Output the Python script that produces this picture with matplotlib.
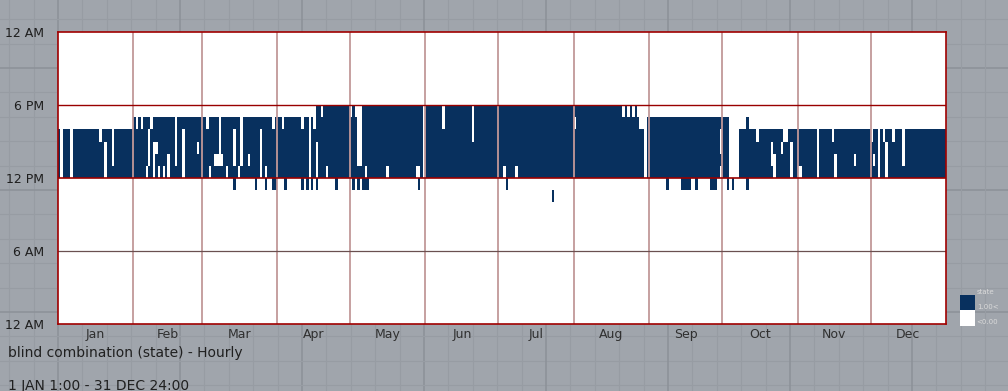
import numpy as np
import matplotlib
matplotlib.use("Agg")
import matplotlib.pyplot as plt
from matplotlib.colors import ListedColormap
from matplotlib.patches import Rectangle

# month layout
months = ['Jan', 'Feb', 'Mar', 'Apr', 'May', 'Jun', 'Jul', 'Aug', 'Sep', 'Oct', 'Nov', 'Dec']
month_days = [31, 28, 31, 30, 31, 30, 31, 31, 30, 31, 30, 31]

hour_ticks = [0, 6, 12, 18, 24]
hour_labels = ['12 AM', '6 AM', '12 PM', '6 PM', '12 AM']

# blind closed from 12 PM up to seg_top (day ranges)
seg_start = [0, 31, 105, 238, 280]
seg_end = [31, 105, 238, 280, 365]
seg_top = [16, 17, 18, 17, 16]

# open (white) gaps: day, first hour, end hour
gap_day = [1, 5, 17, 19, 22,
           32, 34, 36, 37, 38, 39, 40, 41, 43, 45, 48, 51,
           57, 61, 62, 64, 65, 66, 67, 69, 72, 74, 75, 78, 83, 85, 88,
           92, 100, 103, 105, 106, 108, 110,
           120, 122, 123, 124, 126, 135, 147, 148, 150,
           158, 170,
           183, 188,
           212, 232, 234, 236, 239, 240, 241,
           272, 272, 276, 277, 278, 279, 287, 293, 294, 297, 298, 299, 301,
           304, 305, 312, 318, 319, 327,
           334, 335, 337, 339, 340, 343, 347]
gap_lo = [12, 12, 15, 12, 13,
          16, 16, 12, 13, 16, 12, 14, 12, 12, 12, 13, 12,
          14, 16, 12, 13, 13, 13, 13, 12, 13, 12, 13, 13, 12, 12, 16,
          16, 16, 12, 16, 12, 17, 12,
          17, 17, 13, 13, 12, 12, 12, 12, 12,
          16, 15,
          12, 12,
          16, 17, 17, 17, 16, 16, 12,
          14, 12, 12, 12, 12, 12, 15, 13, 12, 14, 15, 15, 12,
          12, 12, 12, 15, 12, 13,
          15, 13, 12, 15, 12, 15, 13]
gap_hi = [16, 16, 16, 15, 16,
          17, 17, 13, 16, 17, 15, 15, 13, 13, 14, 17, 16,
          15, 17, 13, 14, 14, 17, 14, 13, 16, 13, 17, 14, 16, 13, 17,
          17, 17, 17, 18, 15, 18, 13,
          18, 18, 18, 18, 13, 13, 13, 13, 18,
          18, 18,
          13, 13,
          17, 18, 18, 18, 17, 17, 17,
          16, 13, 17, 17, 17, 17, 16, 15, 14, 15, 16, 16, 15,
          13, 13, 16, 16, 14, 14,
          16, 14, 16, 16, 15, 16, 16]

# extra closed hours outside the main block
fill_day = [72, 81, 85, 88, 89, 93, 100, 102, 104, 106, 114, 121, 123, 125, 126, 127,
            148, 184, 203, 250, 256, 257, 258, 259, 262, 268, 269, 270, 275, 277, 283, 283]
fill_lo = [11] * 18 + [10] + [11] * 12 + [16]
fill_hi = [12] * 18 + [11] + [12] * 12 + [17]

legend_labels = ['state', '1.00<', '<0.00']

# build hourly grid
grid = np.zeros((24, 365))
for s, e, t in zip(seg_start, seg_end, seg_top):
    grid[12:t, s:e] = 1
for d, lo, hi in zip(gap_day, gap_lo, gap_hi):
    grid[lo:hi, d] = 0
for d, lo, hi in zip(fill_day, fill_lo, fill_hi):
    grid[lo:hi, d] = 1

W, H = 1008, 391
fig = plt.figure(figsize=(W / 100, H / 100), dpi=100)
fig.patch.set_facecolor('#a0a5ac')

# canvas style background grid
bg = fig.add_axes([0, 0, 1, 1], zorder=-5)
bg.set_xlim(0, W)
bg.set_ylim(H, 0)
bg.axis('off')
step = 24.4
for k in range(-10, 50):
    x = 180 + k * step
    y = 68 + k * step
    major = (k % 5 == 0)
    c = '#8d9299' if major else '#979ca3'
    lw = 1.2 if major else 0.8
    bg.axvline(x, color=c, lw=lw)
    bg.axhline(y, color=c, lw=lw)

# legend swatches
bg.add_patch(Rectangle((960, 295), 15, 15, facecolor='#08305e', edgecolor='none', zorder=5))
bg.add_patch(Rectangle((960, 310), 15, 16, facecolor='white', edgecolor='none', zorder=5))
bg.text(977, 292, legend_labels[0], fontsize=5, color='#dadada', va='center', zorder=5)
bg.text(977, 307, legend_labels[1], fontsize=5, color='#dadada', va='center', zorder=5)
bg.text(976, 322, legend_labels[2], fontsize=5, color='#dadada', va='center', zorder=5)

ax = fig.add_axes([58 / W, 1 - 324 / H, (946 - 58) / W, (324 - 32) / H])
cmap = ListedColormap(['white', '#08305e'])
ax.imshow(grid, cmap=cmap, vmin=0, vmax=1, origin='lower', aspect='auto',
          extent=[0, 365, 0, 24], interpolation='nearest')
ax.set_xlim(0, 365)
ax.set_ylim(0, 24)

starts = np.concatenate([[0], np.cumsum(month_days)])
for s in starts[1:-1]:
    ax.axvline(s, color='#c29898', lw=1.3)
ax.axhline(18, color='#990000', lw=1.0)
ax.axhline(12, color='#990000', lw=1.2)
ax.axhline(6, color='#6a5050', lw=0.9)

for sp in ax.spines.values():
    sp.set_color('#a00000')
    sp.set_linewidth(1.2)

centers = (starts[:-1] + starts[1:]) / 2
ax.set_xticks(centers)
ax.set_xticklabels(months, fontsize=9, color='#303030')
ax.set_yticks(hour_ticks)
ax.set_yticklabels(hour_labels, fontsize=9, color='#1e1e1e')
ax.tick_params(axis='x', length=0, pad=3)
ax.tick_params(axis='y', length=0, pad=10)

fig.text(8 / W, 1 - 353 / H, 'blind combination (state) - Hourly', fontsize=10,
         color='#202020', va='center', ha='left')
fig.text(8 / W, 1 - 386 / H, '1 JAN 1:00 - 31 DEC 24:00', fontsize=10,
         color='#202020', va='center', ha='left')

fig.savefig('out.png', dpi=100, facecolor=fig.get_facecolor())
